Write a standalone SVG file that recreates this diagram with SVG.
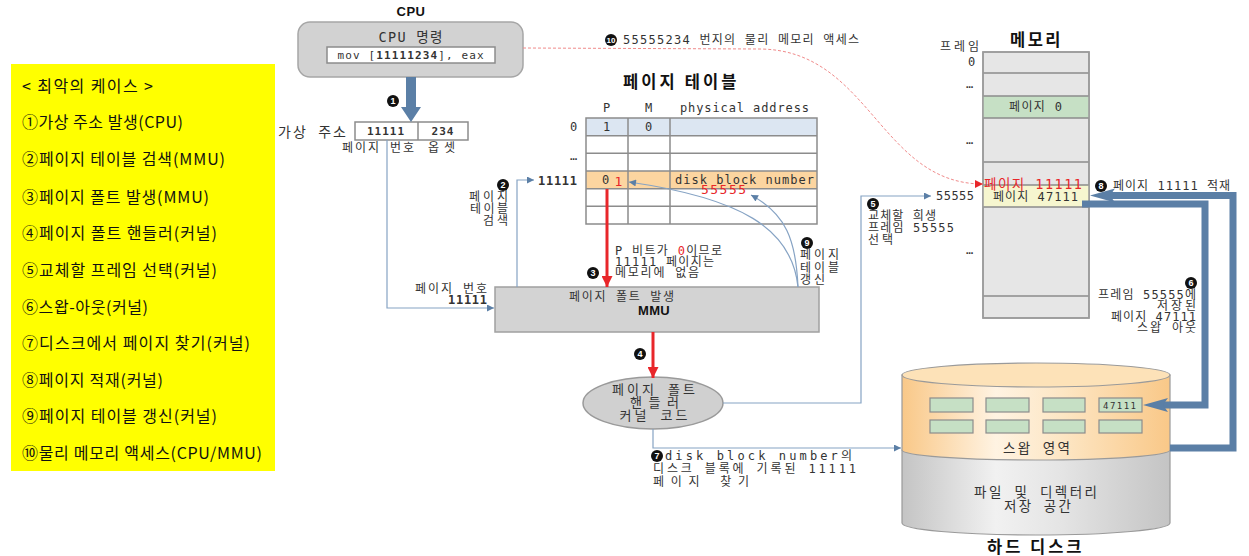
<svg xmlns="http://www.w3.org/2000/svg" width="1249" height="556" viewBox="0 0 1249 556">
  <defs>
    <style>
      text { font-family: "DejaVu Sans Mono", "Noto Sans CJK KR", monospace; font-size: 12px; fill: #333; letter-spacing: 1px; }
      .lat { font-size: 12px; }
      .title { font-family: "Noto Sans CJK KR", "Liberation Sans", sans-serif; font-size: 16.5px; font-weight: bold; fill: #111; letter-spacing: 1.5px; }
      .big { font-size: 13.5px; }
      .b { font-weight: bold; }
      .mid { text-anchor: middle; }
      .end { text-anchor: end; }
      .red { fill: #e8262a; }
      .legend { font-family: "Noto Sans CJK KR", sans-serif; font-size: 16px; fill: #111; letter-spacing: 0; }
      .thin { fill: none; stroke: #86a3c4; stroke-width: 1.2; }
      .grid { fill: none; stroke: #8c8c8c; stroke-width: 1.5; }
      .mem { fill: #e6e6e6; stroke: #9a9a9a; stroke-width: 1.5; }
      .swap { fill: #c6e0c5; stroke: #8c8c8c; stroke-width: 1.2; }
      .fat { fill: none; stroke: #5b7fa6; stroke-width: 7; }
      .num circle { fill: #111; }
      .num text { fill: #fff; font-family: "Liberation Sans", sans-serif; font-size: 9px; font-weight: bold; text-anchor: middle; letter-spacing: 0; }
    </style>
    <marker id="ah-blue" viewBox="0 0 10 10" refX="10" refY="5" markerWidth="9" markerHeight="7" orient="auto" markerUnits="userSpaceOnUse">
      <path d="M0,0 L10,5 L0,10 z" fill="#5b7fa6"/>
    </marker>
    <marker id="ah-red" viewBox="0 0 10 10" refX="10" refY="5" markerWidth="12" markerHeight="11" orient="auto" markerUnits="userSpaceOnUse">
      <path d="M0,0 L10,5 L0,10 z" fill="#e8262a"/>
    </marker>
    <marker id="ah-red-small" viewBox="0 0 10 10" refX="10" refY="5" markerWidth="9" markerHeight="8" orient="auto" markerUnits="userSpaceOnUse">
      <path d="M0,0 L10,5 L0,10 z" fill="#e8262a"/>
    </marker>
    <linearGradient id="g-orange" x1="0" y1="0" x2="1" y2="0">
      <stop offset="0" stop-color="#f9c888"/>
      <stop offset="0.35" stop-color="#fff3e2"/>
      <stop offset="0.6" stop-color="#fde6c4"/>
      <stop offset="1" stop-color="#f9c888"/>
    </linearGradient>
    <linearGradient id="g-gray" x1="0" y1="0" x2="1" y2="0">
      <stop offset="0" stop-color="#c4c4c4"/>
      <stop offset="0.35" stop-color="#f1f1f1"/>
      <stop offset="0.6" stop-color="#e4e4e4"/>
      <stop offset="1" stop-color="#c4c4c4"/>
    </linearGradient>
  </defs>

  <rect width="1249" height="556" fill="#fff"/>

  <!-- legend: worst-case steps -->
  <g id="legend">
    <rect x="11" y="64" width="264" height="407" fill="#ffff00"/>
    <text class="legend red" x="22" y="92" textLength="131" lengthAdjust="spacing">&lt; 최악의 케이스 &gt;</text>
    <text class="legend" x="22" y="128" textLength="161" lengthAdjust="spacing">①가상 주소 발생(CPU)</text>
    <text class="legend" x="22" y="165" textLength="203" lengthAdjust="spacing">②페이지 테이블 검색(MMU)</text>
    <text class="legend" x="22" y="203" textLength="187" lengthAdjust="spacing">③페이지 폴트 발생(MMU)</text>
    <text class="legend" x="22" y="239" textLength="195" lengthAdjust="spacing">④페이지 폴트 핸들러(커널)</text>
    <text class="legend" x="22" y="276" textLength="195" lengthAdjust="spacing">⑤교체할 프레임 선택(커널)</text>
    <text class="legend" x="22" y="313" textLength="126" lengthAdjust="spacing">⑥스왑-아웃(커널)</text>
    <text class="legend" x="22" y="349" textLength="228" lengthAdjust="spacing">⑦디스크에서 페이지 찾기(커널)</text>
    <text class="legend" x="22" y="386" textLength="141" lengthAdjust="spacing">⑧페이지 적재(커널)</text>
    <text class="legend" x="22" y="422" textLength="195" lengthAdjust="spacing">⑨페이지 테이블 갱신(커널)</text>
    <text class="legend" x="22" y="459" textLength="240" lengthAdjust="spacing">⑩물리 메모리 액세스(CPU/MMU)</text>
  </g>

  <!-- CPU -->
  <g id="cpu">
    <text class="mid b" x="411" y="16" style="font-family:'Liberation Sans',sans-serif;font-size:13px;fill:#111;letter-spacing:0.5px">CPU</text>
    <rect x="298" y="22" width="225" height="55" rx="12" fill="#d2d2d2" stroke="#a6a6a6" stroke-width="1.5"/>
    <text class="mid big" x="411" y="42" textLength="65" lengthAdjust="spacing">CPU 명령</text>
    <rect x="327" y="47" width="168" height="16" fill="#fff" stroke="#8c8c8c" stroke-width="1.5"/>
    <text class="mid" x="411" y="59" style="font-size:11px" textLength="147" lengthAdjust="spacing">mov [<tspan class="b">11111234</tspan>], eax</text>
  </g>

  <!-- virtual address -->
  <g id="virtual-address">
    <text x="278" y="137" style="font-size:14px" textLength="69" lengthAdjust="spacing">가상 주소</text>
    <rect x="355" y="122" width="113" height="18" fill="#fff" stroke="#8c8c8c" stroke-width="1.5"/>
    <line x1="418" y1="122" x2="418" y2="140" stroke="#8c8c8c" stroke-width="1.5"/>
    <text class="mid b" x="386" y="135" style="font-size:11px">11111</text>
    <text class="mid b" x="443" y="135" style="font-size:11px">234</text>
    <text x="342" y="152" textLength="73" lengthAdjust="spacing">페이지 번호</text>
    <text x="428" y="152" textLength="28" lengthAdjust="spacing">옵셋</text>
  </g>

  <!-- page table -->
  <g id="page-table">
    <text class="title" x="623" y="88" textLength="115" lengthAdjust="spacing">페이지 테이블</text>
    <text class="mid lat" x="607" y="112">P</text>
    <text class="mid lat" x="649" y="112">M</text>
    <text class="lat" x="680" y="112" textLength="130" lengthAdjust="spacing">physical address</text>
    <rect x="586" y="118" width="231" height="17.7" fill="#dce6f2"/>
    <rect x="586" y="135.7" width="231" height="35.3" fill="#fff"/>
    <rect x="586" y="171" width="231" height="17.7" fill="#fcd5a0"/>
    <rect x="586" y="188.7" width="231" height="35.3" fill="#fff"/>
    <path class="grid" d="M586,118 H817 V224 H586 Z M586,135.7 H817 M586,153.3 H817 M586,171 H817 M586,188.7 H817 M586,206.3 H817 M628,118 V224 M670,118 V224"/>
    <text class="mid lat" x="574" y="131">0</text>
    <text class="mid lat" x="574" y="160">…</text>
    <text class="b lat" x="538" y="185" textLength="40" lengthAdjust="spacing">11111</text>
    <text class="mid lat" x="607" y="131">1</text>
    <text class="mid lat" x="649" y="131">0</text>
    <text class="mid lat" x="606" y="184">0</text>
    <text class="mid red" x="619" y="186" style="font-size:13px">1</text>
    <text class="lat" x="675" y="183.5" textLength="140" lengthAdjust="spacing">disk block number</text>
    <text class="red" x="701" y="194" style="font-size:13px" textLength="46" lengthAdjust="spacing">55555</text>
  </g>

  <!-- MMU -->
  <g id="mmu">
    <rect x="495" y="287" width="324" height="45" fill="#d3d3d3" stroke="#a0a0a0" stroke-width="1.5"/>
    <text x="569" y="301" textLength="106" lengthAdjust="spacing">페이지 폴트 발생</text>
    <text class="mid b" x="654" y="315" style="font-family:'Liberation Sans',sans-serif;font-size:13px;fill:#111;letter-spacing:0.3px">MMU</text>
  </g>

  <!-- page fault handler -->
  <g id="fault-handler">
    <ellipse cx="653" cy="403" rx="70" ry="26" fill="#d0d0d0" stroke="#9a9a9a" stroke-width="1.5"/>
    <text class="mid" x="654" y="394" style="font-size:13px" textLength="84" lengthAdjust="spacing">페이지 폴트</text>
    <text class="mid" x="655" y="407" style="font-size:13px" textLength="50" lengthAdjust="spacing">핸들러</text>
    <text class="mid" x="654" y="420" style="font-size:13px" textLength="69" lengthAdjust="spacing">커널 코드</text>
  </g>

  <!-- physical memory -->
  <g id="memory">
    <text class="title" x="1010" y="46" textLength="52" lengthAdjust="spacing">메모리</text>
    <text x="940" y="51" textLength="40" lengthAdjust="spacing">프레임</text>
    <text class="mid lat" x="972" y="66">0</text>
    <text class="mid lat" x="970" y="88">…</text>
    <text class="mid lat" x="970" y="144">…</text>
    <text class="mid lat" x="970" y="254">…</text>
    <rect class="mem" x="983" y="52" width="106" height="266"/>
    <rect x="983" y="96" width="106" height="22" fill="#c6e0c5"/>
    <rect x="983" y="185" width="106" height="22" fill="#f6f6cf"/>
    <path class="grid" d="M983,73 H1089 M983,96 H1089 M983,118 H1089 M983,162 H1089 M983,185 H1089 M983,207 H1089 M983,296 H1089" stroke="#9a9a9a"/>
    <rect x="983" y="52" width="106" height="266" fill="none" stroke="#9a9a9a" stroke-width="1.5"/>
    <text x="1009" y="111" textLength="54" lengthAdjust="spacing">페이지 0</text>
    <text class="red" x="984" y="189" style="font-size:13.5px" textLength="99" lengthAdjust="spacing">페이지 11111</text>
    <text x="993" y="201" textLength="86" lengthAdjust="spacing">페이지 47111</text>
  </g>

  <!-- hard disk -->
  <g id="hard-disk">
    <path d="M902,450 V523 A134,12 0 0 0 1170,523 V450 Z" fill="url(#g-gray)" stroke="#9a9a9a" stroke-width="1.2"/>
    <path d="M902,375 V450 A134,10 0 0 0 1170,450 V375 Z" fill="url(#g-orange)" stroke="#9a9a9a" stroke-width="1.2"/>
    <ellipse cx="1036" cy="375" rx="134" ry="12" fill="#fde2b8" stroke="#9a9a9a" stroke-width="1.2"/>
    <rect class="swap" x="930" y="398" width="43" height="14"/>
    <rect class="swap" x="986" y="398" width="43" height="14"/>
    <rect class="swap" x="1043" y="398" width="42" height="14"/>
    <rect class="swap" x="1099" y="398" width="43" height="14" fill="#f6f6cf"/>
    <text x="1103" y="409" style="font-size:9px" textLength="34" lengthAdjust="spacing">47111</text>
    <rect class="swap" x="930" y="420" width="43" height="13"/>
    <rect class="swap" x="986" y="420" width="43" height="13"/>
    <rect class="swap" x="1043" y="420" width="42" height="13"/>
    <rect class="swap" x="1099" y="420" width="43" height="13"/>
    <text class="big" x="1003" y="453" textLength="68" lengthAdjust="spacing">스왑 영역</text>
    <text class="big" x="974" y="497" textLength="124" lengthAdjust="spacing">파일 및 디렉터리</text>
    <text class="big" x="1004" y="511" textLength="68" lengthAdjust="spacing">저장 공간</text>
    <text class="title" x="987" y="553" textLength="96" lengthAdjust="spacing">하드 디스크</text>
  </g>

  <!-- connectors -->
  <g id="connectors">
    <!-- 1: CPU -> virtual address -->
    <polygon points="406,77 416,77 416,107 421,107 411,122 401,107 406,107" fill="#5b7fa6"/>
    <!-- page number -> MMU -->
    <path class="thin" d="M387,140 V308 H494" marker-end="url(#ah-blue)"/>
    <!-- 2: MMU -> page table -->
    <path class="thin" d="M517,287 V180 H534" marker-end="url(#ah-blue)"/>
    <!-- 3, 4: red fault path -->
    <line x1="607" y1="189" x2="607" y2="287" stroke="#e8262a" stroke-width="3" marker-end="url(#ah-red)"/>
    <line x1="653" y1="332" x2="653" y2="378" stroke="#e8262a" stroke-width="3" marker-end="url(#ah-red)"/>
    <!-- 5: choose victim frame -->
    <path class="thin" d="M723,403 H861 V196 H931" marker-end="url(#ah-blue)"/>
    <!-- 7: find page on disk -->
    <path class="thin" d="M653,429 V448 H901" marker-end="url(#ah-blue)"/>
    <!-- 9: page table update -->
    <path class="thin" d="M798,287 C792,228 740,198 629,182" marker-end="url(#ah-blue)"/>
    <path class="thin" d="M798,287 C796,240 786,214 751,195" marker-end="url(#ah-blue)"/>
    <!-- 10: physical memory access -->
    <path d="M523,48 L760,49 C870,50 880,184 983,184" fill="none" stroke="#f08a8a" stroke-width="1" stroke-dasharray="3,2" marker-end="url(#ah-red-small)"/>
    <!-- 6: swap out 47111 -->
    <path class="fat" d="M1082,204 H1205 V405 H1162"/>
    <polygon points="1143,405 1168,398 1163,405 1168,412" fill="#5b7fa6"/>
    <!-- 8: load 11111 -->
    <path class="fat" d="M1170,448 H1233 V195.5 H1110"/>
    <polygon points="1090,195.5 1115,188.5 1110,195.5 1115,202.5" fill="#5b7fa6"/>
  </g>

  <!-- step labels -->
  <g id="step-labels">
    <g class="num"><circle cx="393" cy="101" r="6"/><text x="393" y="104">1</text></g>
    <g class="num"><circle cx="503" cy="185" r="6"/><text x="503" y="188">2</text></g>
    <text class="end" x="509" y="201" textLength="40" lengthAdjust="spacing">페이지</text>
    <text class="end" x="509" y="213" textLength="39" lengthAdjust="spacing">테이블</text>
    <text class="end" x="509" y="225" textLength="26" lengthAdjust="spacing">검색</text>
    <text x="415" y="293" textLength="73" lengthAdjust="spacing">페이지 번호</text>
    <text class="b lat" x="448" y="304" textLength="40" lengthAdjust="spacing">11111</text>

    <g class="num"><circle cx="593" cy="273" r="6"/><text x="593" y="276">3</text></g>
    <text x="615" y="255" textLength="108" lengthAdjust="spacing">P 비트가 <tspan class="red">0</tspan>이므로</text>
    <text x="615" y="266" textLength="100" lengthAdjust="spacing">11111 페이지는</text>
    <text x="615" y="277" textLength="85" lengthAdjust="spacing">메모리에 없음</text>

    <g class="num"><circle cx="640" cy="354" r="6"/><text x="640" y="357">4</text></g>

    <g class="num"><circle cx="873" cy="204" r="6"/><text x="873" y="207">5</text></g>
    <text x="868" y="220" textLength="69" lengthAdjust="spacing">교체할 희생</text>
    <text x="868" y="232" textLength="87" lengthAdjust="spacing">프레임 55555</text>
    <text x="868" y="244" textLength="26" lengthAdjust="spacing">선택</text>
    <text class="lat" x="936" y="200" textLength="39" lengthAdjust="spacing">55555</text>

    <g class="num"><circle cx="1191" cy="283" r="6"/><text x="1191" y="286">6</text></g>
    <text x="1098" y="299" textLength="99" lengthAdjust="spacing">프레임 55555에</text>
    <text x="1157" y="310" textLength="40" lengthAdjust="spacing">저장된</text>
    <text x="1111" y="321" textLength="86" lengthAdjust="spacing">페이지 47111</text>
    <text x="1137" y="332" textLength="60" lengthAdjust="spacing">스왑 아웃</text>

    <g class="num"><circle cx="657" cy="456" r="6"/><text x="657" y="459">7</text></g>
    <text x="665" y="460" textLength="188" lengthAdjust="spacing">disk block number의</text>
    <text x="653" y="473" textLength="204" lengthAdjust="spacing">디스크 블록에 기록된 11111</text>
    <text x="653" y="486" textLength="97" lengthAdjust="spacing">페이지 찾기</text>

    <g class="num"><circle cx="1101" cy="186" r="6"/><text x="1101" y="189">8</text></g>
    <text x="1113" y="190" textLength="118" lengthAdjust="spacing">페이지 11111 적재</text>

    <g class="num"><circle cx="807" cy="243" r="6"/><text x="807" y="246">9</text></g>
    <text x="800" y="259" textLength="40" lengthAdjust="spacing">페이지</text>
    <text x="800" y="272" textLength="40" lengthAdjust="spacing">테이블</text>
    <text x="800" y="284" textLength="26" lengthAdjust="spacing">갱신</text>

    <g class="num"><circle cx="611" cy="40" r="6"/><text x="611" y="43" style="font-size:8px">10</text></g>
    <text x="623" y="44" textLength="237" lengthAdjust="spacing">55555234 번지의 물리 메모리 액세스</text>
  </g>
</svg>
